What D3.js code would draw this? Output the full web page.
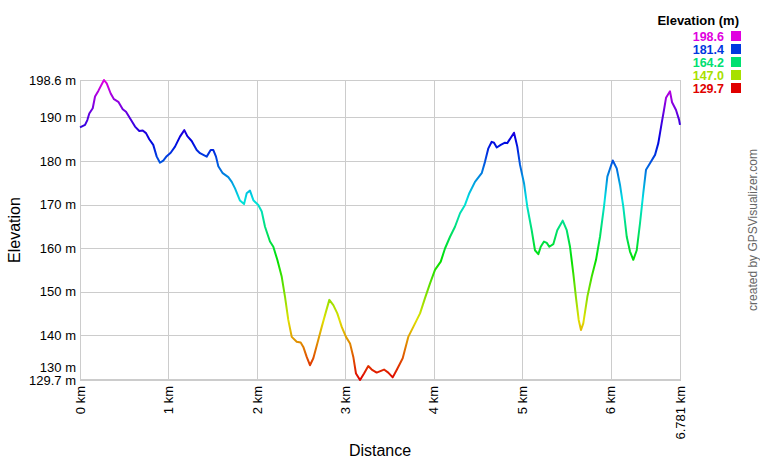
<!DOCTYPE html>
<html>
<head>
<meta charset="utf-8">
<script src="https://cdn.jsdelivr.net/npm/d3@7/dist/d3.min.js"></script>
<style>
    body { margin: 0; background: #fff; }
    text { font-family: Arial, "Liberation Sans", sans-serif; }
</style>
</head>
<body>
<script>
// track profile: distance (km) and elevation (m)
const distances = [0, 0.057, 0.083, 0.105, 0.144, 0.170, 0.207, 0.271, 0.302, 0.347, 0.384, 0.433, 0.483, 0.520, 0.565,
    0.622, 0.670, 0.709, 0.746, 0.783, 0.828, 0.867, 0.904, 0.941, 0.980, 1.025, 1.074, 1.130, 1.179, 1.213,
    1.262, 1.319, 1.356, 1.432, 1.477, 1.507, 1.537, 1.563, 1.613, 1.676, 1.715, 1.752, 1.808, 1.854, 1.884,
    1.921, 1.959, 2.015, 2.054, 2.091, 2.147, 2.185, 2.230, 2.280, 2.317, 2.354, 2.393, 2.449, 2.494, 2.524,
    2.562, 2.599, 2.637, 2.682, 2.732, 2.780, 2.818, 2.863, 2.908, 2.958, 3.006, 3.052, 3.089, 3.119, 3.165,
    3.210, 3.258, 3.297, 3.353, 3.436, 3.484, 3.534, 3.579, 3.647, 3.710, 3.767, 3.843, 3.899, 3.956, 4.012,
    4.077, 4.125, 4.182, 4.238, 4.295, 4.351, 4.400, 4.464, 4.540, 4.577, 4.615, 4.653, 4.679, 4.710, 4.755,
    4.803, 4.829, 4.905, 4.942, 4.973, 5.018, 5.055, 5.105, 5.142, 5.180, 5.207, 5.244, 5.275, 5.304, 5.349,
    5.394, 5.455, 5.501, 5.538, 5.575, 5.606, 5.636, 5.662, 5.688, 5.734, 5.783, 5.832, 5.877, 5.922, 5.960,
    6.021, 6.066, 6.103, 6.140, 6.179, 6.216, 6.253, 6.292, 6.329, 6.366, 6.397, 6.442, 6.499, 6.536, 6.574,
    6.600, 6.623, 6.668, 6.691, 6.736, 6.770, 6.781];
const elevations = [187.7, 188.3, 189.4, 190.9, 192.1, 194.8, 196.1, 198.6, 197.8, 195.5, 194.2, 193.6, 191.9, 191.3, 189.8,
    187.9, 186.9, 187.0, 186.4, 185.0, 183.7, 181.0, 179.6, 180.1, 181.1, 181.9, 183.3, 185.6, 187.1, 185.7,
    184.6, 182.5, 181.8, 181.0, 182.5, 182.5, 181.0, 178.8, 177.2, 176.3, 175.2, 173.7, 170.9, 170.1, 172.6,
    173.2, 171.0, 169.9, 168.4, 164.9, 161.5, 160.3, 157.3, 153.4, 148.8, 143.5, 139.6, 138.5, 138.3, 137.3,
    135.0, 133.1, 134.7, 138.1, 141.9, 145.4, 148.1, 146.9, 145.0, 141.9, 139.6, 138.1, 135.0, 131.2, 129.7,
    131.2, 132.9, 132.1, 131.4, 132.1, 131.4, 130.3, 132.0, 134.7, 139.6, 141.9, 145.0, 148.5, 151.9, 155.0,
    156.9, 159.9, 162.6, 164.9, 168.0, 169.9, 172.6, 175.2, 177.2, 179.8, 182.9, 184.4, 184.2, 183.1, 183.7,
    184.2, 184.1, 186.5, 183.3, 179.1, 174.9, 169.5, 164.1, 159.5, 158.6, 160.3, 161.5, 161.2, 160.3, 160.9,
    164.1, 166.3, 164.1, 160.3, 154.2, 148.5, 143.5, 141.2, 142.7, 148.8, 153.4, 157.3, 162.6, 169.5, 176.4,
    180.1, 178.3, 174.5, 169.5, 162.6, 159.2, 157.3, 159.5, 165.7, 172.6, 178.0, 179.5, 181.4, 184.1, 188.7,
    191.7, 194.5, 196.0, 193.5, 191.7, 189.5, 188.3];

const minElev = 129.7;
const maxElev = 198.6;
const totalKm = 6.781;
const xTicks = [0, 1, 2, 3, 4, 5, 6, 6.781];
const xTickLabels = ["0 km", "1 km", "2 km", "3 km", "4 km", "5 km", "6 km", "6.781 km"];
const yGrid = [190, 180, 170, 160, 150, 140, 130];
const yTicks = [198.6, 190, 180, 170, 160, 150, 140, 130, 129.7];
const yTickLabels = ["198.6 m", "190 m", "180 m", "170 m", "160 m", "150 m", "140 m", "130 m", "129.7 m"];
const legendValues = [198.6, 181.4, 164.2, 147.0, 129.7];
const legendLabels = ["198.6", "181.4", "164.2", "147.0", "129.7"];

(function() {

    const width = 760;
    const height = 460;
    const left = 80, right = 680, top = 80, bottom = 380;

    let x = d3.scaleLinear().domain([0, totalKm]).range([left, right]);
    let y = d3.scaleLinear().domain([minElev, maxElev]).range([bottom, top]);

    // hue runs red -> magenta with elevation
    let hue = d3.scaleLinear().domain([minElev, maxElev]).range([0, 300]);
    let color = function(v) { return d3.hsl(hue(v), 1, 0.44).formatHex(); };

    let svg = d3.select("body")
        .append("svg")
        .attr("width", width)
        .attr("height", height);

    // grid
    svg.append("g")
        .selectAll("line")
        .data(yGrid)
        .enter()
        .append("line")
        .attr("x1", left).attr("x2", right)
        .attr("y1", d => Math.round(y(d)) + 0.5)
        .attr("y2", d => Math.round(y(d)) + 0.5)
        .style("stroke", "#cccccc");

    svg.append("g")
        .selectAll("line")
        .data(xTicks.slice(1, -1))
        .enter()
        .append("line")
        .attr("y1", top).attr("y2", bottom)
        .attr("x1", d => Math.round(x(d)) + 0.5)
        .attr("x2", d => Math.round(x(d)) + 0.5)
        .style("stroke", "#cccccc");

    svg.append("rect")
        .attr("x", left + 0.5)
        .attr("y", top + 0.5)
        .attr("width", right - left)
        .attr("height", bottom - top)
        .style("fill", "none")
        .style("stroke", "#cccccc");

    // vertical gradient so the stroke colour follows the elevation
    let grad = svg.append("defs")
        .append("linearGradient")
        .attr("id", "elevGrad")
        .attr("gradientUnits", "userSpaceOnUse")
        .attr("x1", 0).attr("x2", 0)
        .attr("y1", y(minElev)).attr("y2", y(maxElev));

    d3.range(0, 11).forEach(function(i) {
        let v = minElev + (maxElev - minElev) * i / 10;
        grad.append("stop")
            .attr("offset", (i * 10) + "%")
            .attr("stop-color", color(v));
    });

    let line = d3.line()
        .x(d => x(d[0]))
        .y(d => y(d[1]));

    svg.append("path")
        .datum(distances.map((d, i) => [d, elevations[i]]))
        .attr("d", line)
        .style("fill", "none")
        .style("stroke", "url(#elevGrad)")
        .style("stroke-width", 2)
        .style("stroke-linejoin", "round");

    // y tick labels, pushed up when two would overlap
    let yPos = yTicks.map(d => y(d));
    for (let i = yPos.length - 2; i >= 0; i--) {
        if (yPos[i + 1] - yPos[i] < 13) yPos[i] = yPos[i + 1] - 13;
    }
    svg.append("g")
        .selectAll("text")
        .data(yTickLabels)
        .enter()
        .append("text")
        .attr("x", left - 4)
        .attr("y", (d, i) => yPos[i])
        .attr("dy", "0.35em")
        .attr("text-anchor", "end")
        .style("font-size", "13px")
        .style("fill", "#000")
        .text(d => d);

    // x tick labels, rotated
    svg.append("g")
        .selectAll("text")
        .data(xTickLabels)
        .enter()
        .append("text")
        .attr("transform", (d, i) => "translate(" + x(xTicks[i]) + "," + (bottom + 6) + ") rotate(-90)")
        .attr("dy", "0.35em")
        .attr("text-anchor", "end")
        .style("font-size", "13px")
        .style("fill", "#000")
        .text(d => d);

    // axis titles
    svg.append("text")
        .attr("x", (left + right) / 2)
        .attr("y", 456)
        .attr("text-anchor", "middle")
        .style("font-size", "16px")
        .text("Distance");

    svg.append("text")
        .attr("transform", "translate(20," + (top + bottom) / 2 + ") rotate(-90)")
        .attr("text-anchor", "middle")
        .style("font-size", "16px")
        .text("Elevation");

    svg.append("text")
        .attr("transform", "translate(757,230) rotate(-90)")
        .attr("text-anchor", "middle")
        .style("font-size", "12px")
        .style("fill", "#666666")
        .text("created by GPSVisualizer.com");

    // legend
    svg.append("text")
        .attr("x", 739)
        .attr("y", 25)
        .attr("text-anchor", "end")
        .style("font-size", "13px")
        .style("font-weight", "bold")
        .text("Elevation (m)");

    let legend = svg.append("g")
        .selectAll("g")
        .data(legendValues)
        .enter()
        .append("g")
        .attr("transform", (d, i) => "translate(0," + (36 + i * 13) + ")");

    legend.append("rect")
        .attr("x", 731)
        .attr("y", -5)
        .attr("width", 10)
        .attr("height", 10)
        .style("fill", d => color(d));

    legend.append("text")
        .attr("x", 724)
        .attr("dy", "0.38em")
        .attr("text-anchor", "end")
        .style("font-size", "12.5px")
        .style("font-weight", "bold")
        .style("fill", d => color(d))
        .text((d, i) => legendLabels[i]);

})();
</script>
</body>
</html>
